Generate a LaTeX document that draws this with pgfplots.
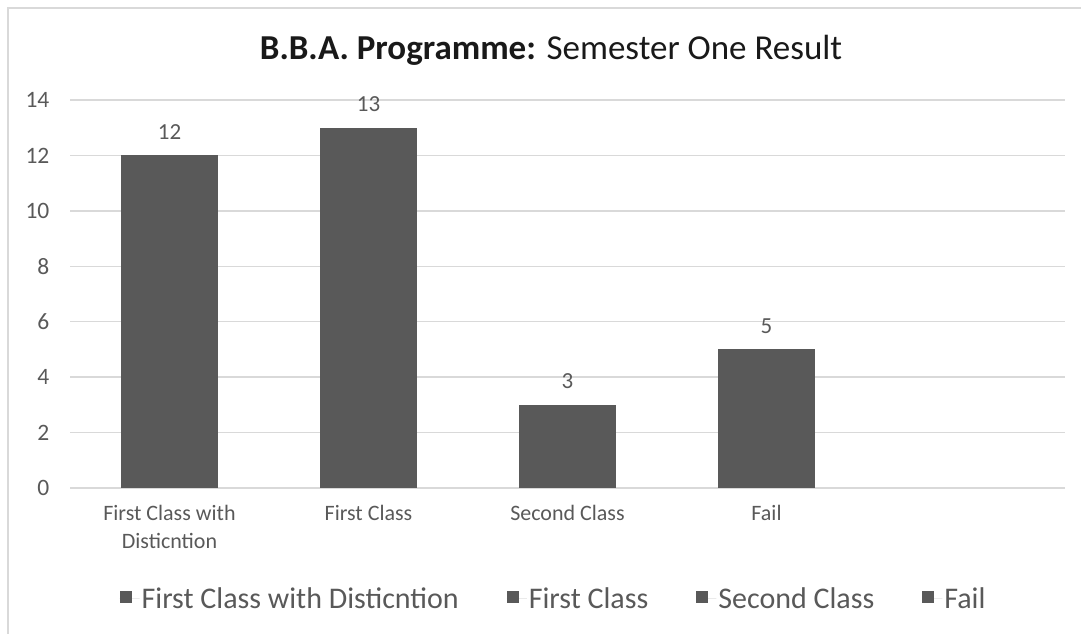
\documentclass[border=0pt]{standalone}
\usepackage{pgfplots}
\pgfplotsset{compat=1.18}
\usepackage{fontspec}
\setmainfont{Carlito}
\definecolor{barcol}{HTML}{595959}
\definecolor{txt}{HTML}{595959}
\definecolor{gridc}{HTML}{D9D9D9}
\begin{document}
\begin{tikzpicture}[x=1pt,y=1pt]
\path[use as bounding box] (0,0) rectangle (1081,634);
\draw[gridc, line width=1.5pt] (8,0) -- (8,626) -- (1081,626);
\node[font=\fontsize{35}{40}\selectfont, text=black!90] at (551,584) {\textbf{B.B.A. Programme:} Semester One Result};
\begin{axis}[
  at={(70pt,146pt)}, anchor=south west,
  scale only axis, width=995pt, height=388pt,
  xmin=-0.5, xmax=4.5, ymin=0, ymax=14,
  ybar, bar width=97pt, bar shift=0pt,
  axis x line=bottom, axis y line=left,
  x axis line style={draw=gridc, line width=1.5pt, -},
  y axis line style={draw=none},
  xtick={0,1,2,3},
  xticklabels={{First Class with\\Disticntion},{First Class},{Second Class},{Fail}},
  xtick style={draw=none},
  extra x ticks={-0.5,0.5,1.5,2.5,3.5,4.5},
  extra x tick labels={},
  extra x tick style={grid=none, tick style={draw=gridc, line width=1.5pt}, tick align=outside, major tick length=6pt},
  ytick={0,2,...,14},
  ytick style={draw=none},
  ymajorgrids, grid style={draw=gridc, line width=1.5pt},
  xticklabel style={font=\fontsize{22}{28}\selectfont, text=txt, align=center, yshift=-12pt},
  yticklabel style={font=\fontsize{23.5}{26}\selectfont, text=txt, xshift=-15pt},
  /pgf/number format/assume math mode=true,
  nodes near coords,
  every node near coord/.append style={font=\fontsize{23}{26}\selectfont, text=txt, anchor=south, inner sep=0pt, yshift=16pt},
  legend columns=4,
  legend style={at={(0.486,-0.286)}, anchor=center, draw=none, fill=none,
    font=\fontsize{30}{34}\selectfont, text=txt,
    /tikz/every even column/.append style={column sep=46pt}},
  legend image code/.code={\fill[barcol] (0pt,-4pt) rectangle (12pt,8pt); \path (0pt,0pt) -- (20pt,0pt);},
]
\addplot[fill=barcol, draw=none] coordinates {(0,12)};
\addplot[fill=barcol, draw=none] coordinates {(1,13)};
\addplot[fill=barcol, draw=none] coordinates {(2,3)};
\addplot[fill=barcol, draw=none] coordinates {(3,5)};
\legend{First Class with Disticntion, First Class, Second Class, Fail}
\end{axis}
\end{tikzpicture}
\end{document}
